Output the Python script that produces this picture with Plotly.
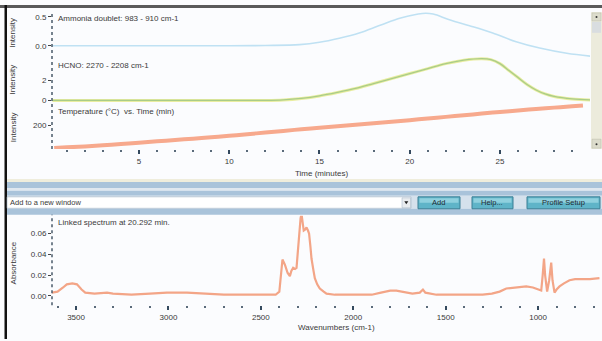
import plotly.graph_objects as go

W, H = 602, 341

# ---------------- data ----------------
time_nh3 = [0.2, 5, 10, 12, 13.9, 15.0, 16.1, 17.2, 18.4, 19.5, 20.7, 21.3, 22.2, 23.5, 24.6, 25.9, 27.2, 28.7, 30.0]
nh3_vals = [0.0, 0.0, 0.0, 0.005, 0.02, 0.06, 0.13, 0.22, 0.36, 0.48, 0.56, 0.55, 0.45, 0.33, 0.22, 0.07, -0.04, -0.13, -0.18]

time_hcno = [0.2, 5, 10, 12, 13, 14, 15, 16, 17, 18, 19, 20, 21, 22, 23, 24, 24.5, 25, 25.5, 26, 26.5, 27, 27.5, 28, 29, 30]
hcno_vals = [0.0, 0.0, 0.0, 0.0, 0.05, 0.2, 0.45, 0.8, 1.2, 1.7, 2.2, 2.7, 3.2, 3.7, 4.05, 4.2, 4.1, 3.7, 3.0, 2.3, 1.6, 1.05, 0.65, 0.4, 0.15, 0.05]

time_temp = [0.3, 1, 2, 3, 4, 5, 6, 7, 8, 9, 10, 11, 12, 13, 14, 15, 16, 17, 18, 19, 20, 21, 22, 23, 24, 25, 26, 27, 28, 29, 29.6]
temp_vals = [47, 52, 58, 66, 74, 83, 92, 101, 110, 119, 129, 140, 151, 162, 173, 183, 193, 203, 213, 223, 234, 245, 256, 267, 278, 289, 299, 309, 318, 327, 333]

wavenumbers = [3630, 3600, 3570, 3550, 3520, 3495, 3470, 3450, 3400, 3332, 3300, 3200, 3100, 3008, 2900, 2792,
               2700, 2600, 2500, 2420, 2400, 2390, 2383, 2370, 2355, 2343, 2335, 2325, 2315, 2307, 2300, 2293,
               2285, 2280, 2274, 2268, 2260, 2253, 2245, 2239, 2232, 2226, 2215, 2208, 2195, 2181, 2160, 2145,
               2100, 2000, 1900, 1850, 1800, 1767, 1720, 1680, 1640, 1623, 1610, 1550, 1400, 1300, 1250, 1208,
               1172, 1130, 1100, 1064, 1028, 995, 983, 975, 968, 962, 955, 951, 940, 929, 922, 911, 900, 884,
               860, 830, 800, 758, 720, 668]
absorbance = [0.003, 0.004, 0.008, 0.011, 0.012, 0.011, 0.006, 0.003, 0.002, 0.003, 0.002, 0.001, 0.002, 0.003, 0.003, 0.002,
              0.001, 0.001, 0.001, 0.001, 0.004, 0.02, 0.035, 0.03, 0.022, 0.019, 0.024, 0.027, 0.026, 0.027, 0.045, 0.063,
              0.075, 0.079, 0.072, 0.063, 0.064, 0.066, 0.063, 0.06, 0.048, 0.036, 0.024, 0.017, 0.011, 0.007, 0.004, 0.002,
              0.001, 0.001, 0.001, 0.003, 0.005, 0.005, 0.003, 0.002, 0.003, 0.006, 0.003, 0.001, 0.001, 0.001, 0.002, 0.004,
              0.007, 0.008, 0.008, 0.009, 0.008, 0.006, 0.005, 0.02, 0.036, 0.02, 0.005, 0.004, 0.015, 0.032, 0.015, 0.003, 0.006, 0.009,
              0.012, 0.015, 0.016, 0.016, 0.016, 0.017]

time_ticks = [5, 10, 15, 20, 25]
wn_ticks = [3500, 3000, 2500, 2000, 1500, 1000]
abs_ticks = [0.00, 0.02, 0.04, 0.06]

# ---------------- helpers ----------------
def px(x):
    return x / W

def py(y):
    return 1 - y / H

FONT = "Liberation Sans, Arial, sans-serif"
TXT = "#3a3a3a"

fig = go.Figure()
fig.add_trace(go.Scatter(x=time_nh3, y=nh3_vals, mode="lines", line=dict(color="#bfe1f3", width=1.6, shape="spline"),
                         xaxis="x", yaxis="y", showlegend=False))
fig.add_trace(go.Scatter(x=time_hcno, y=hcno_vals, mode="lines", line=dict(color="#e9eda0", width=3, shape="spline"),
                         xaxis="x", yaxis="y2", showlegend=False))
fig.add_trace(go.Scatter(x=time_hcno, y=hcno_vals, mode="lines", line=dict(color="#a9cc88", width=1.3, shape="spline"),
                         xaxis="x", yaxis="y2", showlegend=False))
fig.add_trace(go.Scatter(x=time_temp, y=temp_vals, mode="lines", line=dict(color="#f7a98d", width=4, shape="spline"),
                         xaxis="x", yaxis="y3", showlegend=False))
fig.add_trace(go.Scatter(x=wavenumbers, y=absorbance, mode="lines", line=dict(color="#f3a587", width=2.2),
                         xaxis="x2", yaxis="y4", showlegend=False))

tickfont = dict(family=FONT, size=8, color=TXT)

def ydom(top, bottom):
    return [py(bottom), py(top)]

layout = dict(
    width=W, height=H, margin=dict(l=0, r=0, t=0, b=0),
    paper_bgcolor="#fbfcfe", plot_bgcolor="rgba(0,0,0,0)",
    font=dict(family=FONT, size=8, color=TXT),
    xaxis=dict(domain=[px(52), px(590)], range=[0.18, 29.99], anchor="y3",
               showgrid=False, zeroline=False, showline=False,
               tickvals=time_ticks, ticks="outside", ticklen=4, tickwidth=2, tickcolor="#34495e",
               minor=dict(dtick=1, ticks="outside", ticklen=2, tickwidth=2, tickcolor="#5a6a7a"),
               tickfont=tickfont),
    yaxis=dict(domain=ydom(10, 60), range=[-0.241, 0.621], anchor="x", showgrid=False, zeroline=False,
               showline=False, tickvals=[0.0, 0.5], ticktext=["0.0", "0.5"], ticks="outside", ticklen=3,
               tickwidth=1, tickcolor="#444", tickfont=tickfont),
    yaxis2=dict(domain=ydom(56, 104), range=[-0.3, 4.5], anchor="x", showgrid=False, zeroline=False,
                showline=False, tickvals=[0, 2], ticktext=["0", "2"], ticks="outside", ticklen=3,
                tickwidth=1, tickcolor="#444", tickfont=tickfont),
    yaxis3=dict(domain=ydom(100, 150), range=[40, 373], anchor="x", showgrid=False, zeroline=False,
                showline=False, tickvals=[200], ticktext=["200"], ticks="outside", ticklen=3,
                tickwidth=1, tickcolor="#444", tickfont=tickfont),
    xaxis2=dict(domain=[px(52), px(600)], range=[3630, 665], anchor="y4",
                showgrid=False, zeroline=False, showline=False,
                tickvals=wn_ticks, ticks="outside", ticklen=4, tickwidth=2, tickcolor="#34495e",
                minor=dict(dtick=100, tick0=0, ticks="outside", ticklen=2, tickwidth=2, tickcolor="#5a6a7a"),
                tickfont=tickfont),
    yaxis4=dict(domain=ydom(217, 307), range=[-0.00912, 0.0773], anchor="x2", showgrid=False, zeroline=False,
                showline=False, tickvals=abs_ticks, ticktext=["0.00", "0.02", "0.04", "0.06"], ticks="outside",
                ticklen=3, tickwidth=1, tickcolor="#444", tickfont=tickfont),
)

shapes = []

def rect(x0, y0, x1, y1, fill, line=None, lw=0, layer="above"):
    shapes.append(dict(type="rect", xref="paper", yref="paper", x0=px(x0), x1=px(x1), y0=py(y1), y1=py(y0),
                       fillcolor=fill, line=dict(color=line or fill, width=lw), layer=layer))

def vline_dot(x, y0, y1):
    shapes.append(dict(type="line", xref="paper", yref="paper", x0=px(x), x1=px(x), y0=py(y1), y1=py(y0),
                       line=dict(color="#4a5a6a", width=1.5, dash="dot"), layer="above"))

# frame
rect(0, 5, 602, 8, "#5a5a5a")
rect(4.5, 5, 7, 341, "#111111")

# dotted y axes
vline_dot(52, 13, 150)
vline_dot(52, 213, 307)

# scrollbar on right of top panel
rect(591, 12, 602, 150, "#ecebdc")
rect(592, 13, 601, 21, "#dcdccc", line="#b8b8a8", lw=0.5)
rect(592, 22, 601, 33, "#d9dde0")
rect(592, 140, 601, 149, "#dcdccc", line="#b8b8a8", lw=0.5)
shapes.append(dict(type="circle", xref="paper", yref="paper", x0=px(595.5), x1=px(597.5), y0=py(18), y1=py(16),
                   fillcolor="#333", line=dict(width=0)))
shapes.append(dict(type="circle", xref="paper", yref="paper", x0=px(595.5), x1=px(597.5), y0=py(146), y1=py(144),
                   fillcolor="#333", line=dict(width=0)))

# toolbar bands
rect(7, 180, 602, 183, "#efeddc")
rect(7, 183, 602, 189, "#a9c3da")
rect(7, 189, 602, 192, "#dfe7ef")
rect(7, 192, 602, 197, "#a9c3da")
rect(7, 197, 602, 210, "#d5e1ec")
rect(7, 210, 602, 216, "#a9c3da")
# combobox
rect(7, 198, 411, 209.5, "#ffffff", line="#9fb3c5", lw=0.6)
rect(402, 199, 410.5, 209, "#e9ecef", line="#9fb3c5", lw=0.5)
shapes.append(dict(type="path", xref="paper", yref="paper",
                   path=f"M {px(404.3)},{py(202.5)} L {px(408.3)},{py(202.5)} L {px(406.3)},{py(205.5)} Z",
                   fillcolor="#222", line=dict(width=0)))

# buttons
def button(x0, x1):
    shapes.append(dict(type="rect", xref="paper", yref="paper", x0=px(x0), x1=px(x1), y0=py(210), y1=py(198),
                       fillcolor="#5fb4c8", line=dict(color="#3b7f95", width=1), layer="above"))
    shapes.append(dict(type="rect", xref="paper", yref="paper", x0=px(x0 + 1.5), x1=px(x1 - 1.5), y0=py(204), y1=py(199.5),
                       fillcolor="#8fd0de", line=dict(width=0), layer="above"))

button(418, 460)
button(472, 513)
button(527, 600)

layout["shapes"] = shapes

ann = []

def text(x, y, s, size=8, xanchor="left", angle=0, color=TXT):
    ann.append(dict(x=px(x), y=py(y), xref="paper", yref="paper", text=s, showarrow=False,
                    xanchor=xanchor, yanchor="middle", textangle=angle,
                    font=dict(family=FONT, size=size, color=color)))

text(56, 19, "Ammonia doublet: 983 - 910 cm-1")
text(56, 66, "HCNO: 2270 - 2208 cm-1")
text(56, 112, "Temperature (°C)  vs. Time (min)")
text(13, 33, "Intensity", xanchor="center", angle=-90)
text(13, 80, "Intensity", xanchor="center", angle=-90)
text(13, 128, "Intensity", xanchor="center", angle=-90)
text(321, 175, "Time (minutes)", xanchor="center")
text(8, 204, "Add to a new window", size=7.5)
text(439, 204, "Add", size=7.5, xanchor="center", color="#1d2b33")
text(492.5, 204, "Help...", size=7.5, xanchor="center", color="#1d2b33")
text(563.5, 204, "Profile Setup", size=7.5, xanchor="center", color="#1d2b33")
text(56, 224, "Linked spectrum at 20.292 min.")
text(13, 265, "Absorbance", xanchor="center", angle=-90)
text(336, 329, "Wavenumbers (cm-1)", xanchor="center")

layout["annotations"] = ann
fig.update_layout(**layout)
fig.write_html("out.html")
